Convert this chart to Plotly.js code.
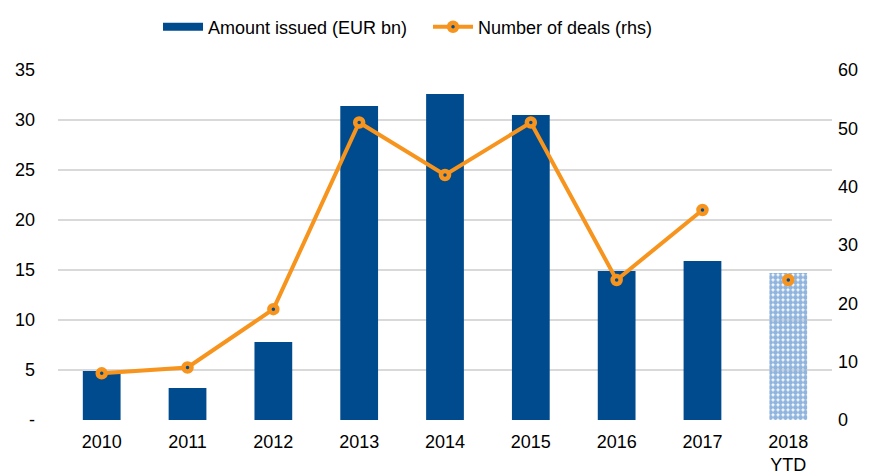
<!DOCTYPE html>
<html>
<head>
<meta charset="utf-8">
<script src="https://cdn.plot.ly/plotly-3.0.1.min.js"></script>
<style>html,body{margin:0;padding:0;background:#fff;}#chart{width:873px;height:474px;}</style>
</head>
<body>
<div id="chart"></div>
<script>
var years = ['2010','2011','2012','2013','2014','2015','2016','2017','2018<br>YTD'];
var amountIssued = [4.9, 3.2, 7.8, 31.4, 32.6, 30.5, 14.9, 15.9, 14.7];
var numberOfDeals = [8, 9, 19, 51, 42, 51, 24, 36, 24];
var leftTickVals = [0, 5, 10, 15, 20, 25, 30, 35];
var leftTickText = ['-', '5', '10', '15', '20', '25', '30', '35'];

var navy = '#004B8D';
var orange = '#F7941D';
var lightBlue = '#8FB4DD';

var barColors = years.map(function(y, i){ return i === years.length - 1 ? lightBlue : navy; });
var barShapes = years.map(function(y, i){ return i === years.length - 1 ? '.' : ''; });

var n = years.length;
var traces = [
  {
    type: 'bar', name: 'Amount issued (EUR bn)', showlegend: false,
    x: years, y: amountIssued,
    marker: {color: barColors, line: {width: 0},
      pattern: {shape: barShapes, bgcolor: '#ffffff', size: 5, solidity: 0.75, fillmode: 'replace'}},
    yaxis: 'y'
  },
  {
    type: 'scatter', mode: 'lines', name: 'Amount issued (EUR bn)',
    x: [null], y: [null], line: {color: navy, width: 8}, yaxis: 'y', hoverinfo: 'skip'
  },
  {
    type: 'scatter', mode: 'lines+markers', name: 'Number of deals (rhs)',
    x: years.slice(0, n - 1), y: numberOfDeals.slice(0, n - 1),
    line: {color: orange, width: 4},
    marker: {color: navy, size: 8, line: {color: orange, width: 4.5}},
    yaxis: 'y2'
  },
  {
    type: 'scatter', mode: 'markers', name: 'Number of deals (rhs)', showlegend: false,
    x: years.slice(n - 1), y: numberOfDeals.slice(n - 1),
    marker: {color: navy, size: 8, line: {color: orange, width: 4.5}},
    yaxis: 'y2'
  }
];

var layout = {
  width: 873, height: 474,
  margin: {l: 58, r: 41, t: 70, b: 54},
  paper_bgcolor: '#fff', plot_bgcolor: '#fff',
  font: {family: '"Liberation Sans", Arial, sans-serif', size: 18, color: '#000'},
  bargap: 0.56,
  showlegend: true,
  legend: {orientation: 'h', xref: 'container', yref: 'container', x: 0.181, xanchor: 'left',
    y: 0.943, yanchor: 'middle', font: {size: 18}, itemwidth: 40, traceorder: 'normal',
    entrywidth: 215, entrywidthmode: 'pixels'},
  xaxis: {type: 'category', showgrid: false, zeroline: false, showline: false,
    ticks: '', ticklabelstandoff: 9, tickfont: {size: 18}, fixedrange: true},
  yaxis: {range: [0, 35], tickmode: 'array', tickvals: leftTickVals, ticktext: leftTickText,
    showgrid: true, gridcolor: '#d9d9d9', gridwidth: 1.5, zeroline: false, showline: false,
    ticks: '', ticklabelstandoff: 22, tickfont: {size: 18}},
  yaxis2: {range: [0, 60], dtick: 10, overlaying: 'y', side: 'right', showgrid: false,
    zeroline: false, showline: false, ticks: '', ticklabelstandoff: 5, tickfont: {size: 18}}
};

Plotly.newPlot('chart', traces, layout, {displayModeBar: false, staticPlot: true});
</script>
</body>
</html>
